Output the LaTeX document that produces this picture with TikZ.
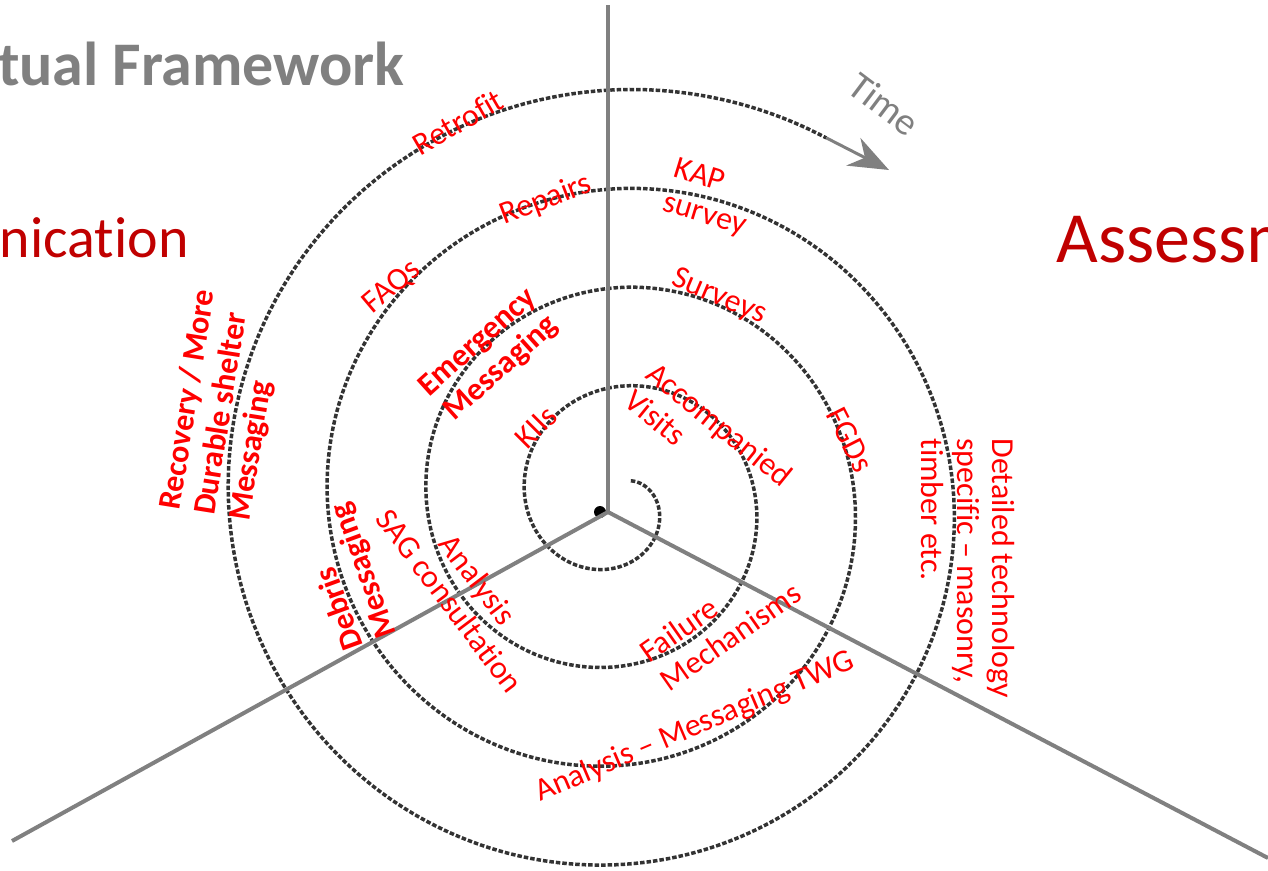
\documentclass[tikz,border=0pt]{standalone}
\usepackage{fontspec}
\setmainfont{Carlito}[Ligatures={TeX,NoCommon}]
\usepackage{tikz}
\usetikzlibrary{arrows.meta, positioning}
\definecolor{axisgray}{HTML}{808080}
\definecolor{headred}{HTML}{C00000}
\definecolor{lblred}{HTML}{FF0000}

\begin{document}
\begin{tikzpicture}[x=0.02cm, y=-0.02cm,
    axis/.style={axisgray, line width=0.08cm},
    spiral/.style={black!80, line width=0.07cm, dash pattern=on 0.09cm off 0.04cm},
    timearrow/.style={axisgray, line width=0.06cm, -{Stealth[length=0.8cm, width=0.62cm]}},
    lbl/.style={text=lblred, inner sep=0pt, font=\fontsize{18.2}{20}\selectfont},
    lblb/.style={lbl, font=\bfseries\fontsize{18.2}{20}\selectfont},
    heading/.style={inner sep=0pt, text=headred}]
        % Frame
        \useasboundingbox (0,0) rectangle (1268,870);
        \clip (0,0) rectangle (1268,870);

        % Headings
        \node[heading, anchor=base east, text=axisgray, font=\bfseries\fontsize{35.3}{40}\selectfont] (title) at (405,85) {Conceptual Framework};
        \node[heading, anchor=base east, font=\fontsize{33}{40}\selectfont] (comm) at (189,257) {Communication};
        \node[heading, anchor=base west, font=\fontsize{41}{46}\selectfont] (assess) at (1056,262) {Assessment};

        % Spiral
        \draw[spiral] plot[domain=-55:1380, samples=500, smooth] ({616+(41+0.275*\x)*cos(\x)}, {502+(41+0.275*\x)*sin(\x)});
        \coordinate (tailA) at ({616+(41+0.275*1380)*cos(1380)}, {502+(41+0.275*1380)*sin(1380)});
        \coordinate (tipB) at (889,170);
        \draw[timearrow] (tailA) -- (tipB);
        \node[inner sep=0pt, text=axisgray, rotate=-37, font=\fontsize{22}{26}\selectfont] (time) at (884,104) {Time};
        \node[circle, fill=black, inner sep=0pt, minimum size=0.24cm] (pen) at (600,512) {};

        % Axes
        \coordinate (o) at (608,512);
        \coordinate (up) at (608,5);
        \coordinate (sw) at (12,841);
        \coordinate (se) at (1268,858);
        \draw[axis] (o) -- (up);
        \draw[axis] (o) -- (sw);
        \draw[axis] (o) -- (se);

        % Labels
        \node[lbl, rotate=30] (retrofit) at (458,122) {Retrofit};
        \node[lbl, rotate=21] (repairs) at (546,200) {Repairs};
        \node[lbl, rotate=40] (faqs) at (392,287) {FAQs};
        \node[lbl, rotate=-17, align=left, anchor=west] (kap) at (669,186) {KAP\\survey};
        \node[lbl, rotate=-23] (surveys) at (719,297) {Surveys};
        \node[lblb, rotate=42, align=center] (emerg) at (490,356) {Emergency\\Messaging};
        \node[lbl, rotate=45] (kiis) at (536,427) {KIIs};
        \node[lbl, rotate=-39, align=left, anchor=west] (visits) at (640,382) {Accompanied\\Visits};
        \node[lbl, rotate=-63] (fgds) at (850,440) {FGDs};
        \node[lbl, rotate=-90, align=left, anchor=west] (detail) at (968,438) {Detailed technology\\specific – masonry,\\timber etc.};
        \node[lblb, rotate=81, align=left, anchor=west] (recovery) at (206,515) {Recovery / More\\Durable shelter\\Messaging};
        \node[lblb, rotate=110, align=left, anchor=west] (debris) at (372,643) {Debris\\Messaging};
        \node[lbl, rotate=-53, align=center] (sag) at (464,590) {Analysis\\SAG consultation};
        \node[lbl, rotate=35, align=left, anchor=west] (failure) at (653,669) {Failure\\Mechanisms};
        \node[lbl, rotate=23] (twg) at (695,727) {Analysis – Messaging TWG};
\end{tikzpicture}
\end{document}
